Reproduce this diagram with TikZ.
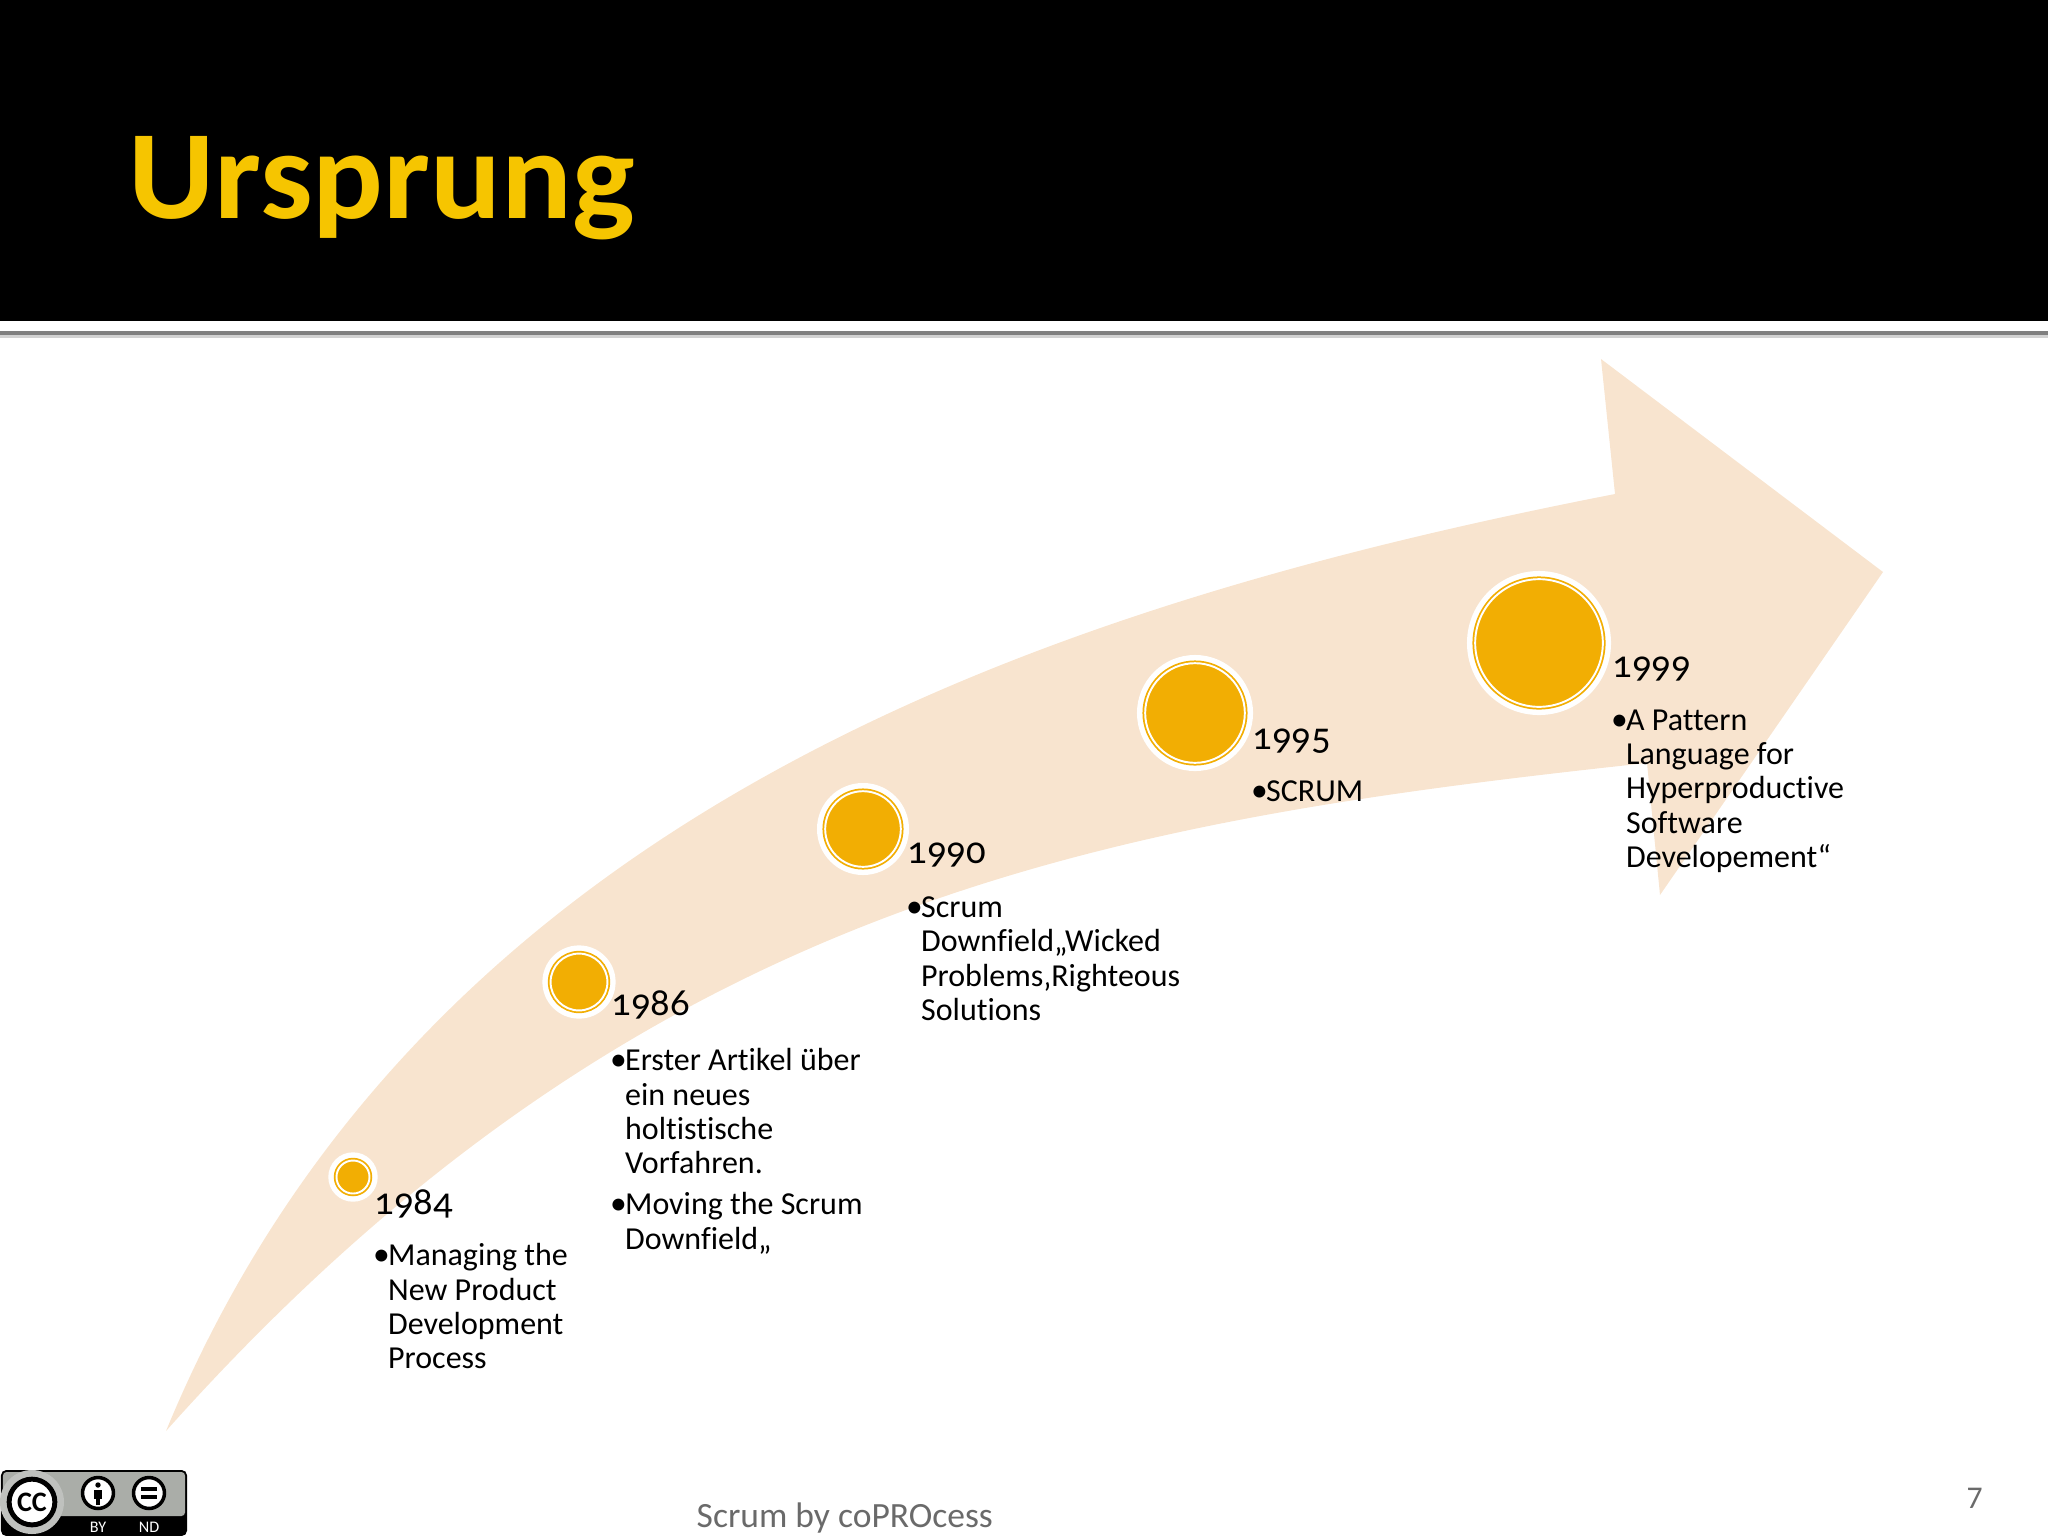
\documentclass[tikz,border=0pt]{standalone}
\usepackage{fontspec}
\setmainfont{Carlito}[Numbers=OldStyle,Ligatures=NoCommon]
\usepackage[HTML]{xcolor}
\usetikzlibrary{positioning}
\definecolor{amberfill}{HTML}{F2AE03}
\definecolor{arrowfill}{HTML}{F8E4CF}
\definecolor{titlegold}{HTML}{F6C500}
\definecolor{footgray}{HTML}{6A6A6A}
\definecolor{badgegray}{HTML}{AAADA8}
\newcommand{\ind}{\hspace*{0.42em}}
\newcommand{\bul}{\makebox[0.42em][l]{\hspace*{-0.05em}\scalebox{1.05}{\textbullet}}}
\tikzset{
  yearlabel/.style={font=\fontsize{11}{12}\selectfont, anchor=base west, inner sep=0pt},
  itemlabel/.style={font=\fontsize{9.1}{9.75}\selectfont, anchor=north west, inner sep=0pt, align=left},
  halo/.style={circle, fill=white, inner sep=0pt},
  yeardot/.style={circle, draw=amberfill, double=white, double distance=0.55pt, line width=0.5pt, fill=amberfill, inner sep=0pt},
  ccicon/.style={circle, draw=black, fill=white, line width=1pt, inner sep=0pt}
}
\begin{document}
\begin{tikzpicture}[x=0.01cm,y=-0.01cm]
\useasboundingbox (0,0) rectangle (2048,1536);
% header
\fill[black] (0,0) rectangle (2048,321);
\fill[gray] (0,331) rectangle (2048,335);
\fill[gray!35] (0,335) rectangle (2048,338);
\node[anchor=base west, inner sep=0pt, text=titlegold, font=\fontsize{36}{36}\selectfont\bfseries] (title) at (128,218) {\scalebox{1.043}[1]{Ursprung}};
% arrow
\fill[arrowfill] (166,1431)
  .. controls (420,815) and (1040,606) .. (1615,494)
  -- (1601,359) -- (1883,572) -- (1660,895) -- (1647,763)
  .. controls (1100,822) and (640,900) .. (166,1431) -- cycle;
% dots
\foreach \name/\px/\py/\rad in {a/353/1177/18.7, b/579/982/30.6, c/863/829/40, d/1195/713/52, e/1539/643/66} {
  \node[halo, minimum size=(\rad+6)*2*0.2845pt] (halo\name) at (\px,\py) {};
  \node[yeardot, minimum size=(\rad-2.2)*2*0.2845pt] (dot\name) at (\px,\py) {};
}
% labels
\node[yearlabel] (yeara) at (374,1214) {1984};
\node[itemlabel] (itema) at (374,1243) {\bul Managing the\\\ind New Product\\\ind Development\\\ind Process};
\node[yearlabel] (yearb) at (611,1015) {1986};
\node[itemlabel] (itemb) at (611,1048) {\bul Erster Artikel über\\\ind ein neues\\\ind holtistische\\\ind Vorfahren.};
\node[itemlabel] (itemc) at (611,1192) {\bul Moving the Scrum\\\ind Downfield„};
\node[yearlabel] (yearc) at (907,863) {1990};
\node[itemlabel] (itemd) at (907,896) {\bul Scrum\\\ind Downfield„Wicked\\\ind Problems‚Righteous\\\ind Solutions};
\node[yearlabel] (yeard) at (1252,749) {1995};
\node[itemlabel] (iteme) at (1252,780) {\bul SCRUM};
\node[yearlabel] (yeare) at (1612,677) {1999};
\node[itemlabel] (itemf) at (1612,709) {\bul A Pattern\\\ind Language for\\\ind Hyperproductive\\\ind Software\\\ind Developement“};
% footer
\node[anchor=base west, inner sep=0pt, text=footgray, font=\fontsize{10.1}{12}\selectfont] (foot) at (696,1527) {Scrum by coPROcess};
\node[anchor=base west, inner sep=0pt, text=footgray, font=\fontsize{9}{12}\selectfont\addfontfeature{Numbers=Lining}] (page) at (1966,1508) {7};
% badge
\fill[black, rounded corners=1.5pt] (1,1470) rectangle (187,1536);
\fill[badgegray, rounded corners=1pt] (3,1472) rectangle (185,1516);
\fill[white!25!badgegray] (32,1502) circle (32);
\node[ccicon, line width=1.4pt, minimum size=13pt] (cc) at (32,1502) {};
\node[font=\fontsize{8}{8}\selectfont\bfseries, inner sep=0pt] at (cc) {CC};
\node[ccicon, minimum size=8.8pt] (by) at (98,1493) {};
\fill[black] (98,1485) circle (2.7);
\fill[black] (94,1489.5) rectangle (102,1499);
\fill[black] (96,1499) rectangle (100,1505);
\node[ccicon, minimum size=8.8pt] (nd) at (149,1493) {};
\fill[black] (141,1487) rectangle (157,1491);
\fill[black] (141,1495) rectangle (157,1499);
\node[font=\fontsize{4.6}{5}\selectfont, text=white, inner sep=0pt] (bytext) at (98,1527) {BY};
\node[font=\fontsize{4.6}{5}\selectfont, text=white, inner sep=0pt] (ndtext) at (149,1527) {ND};
\end{tikzpicture}
\end{document}
